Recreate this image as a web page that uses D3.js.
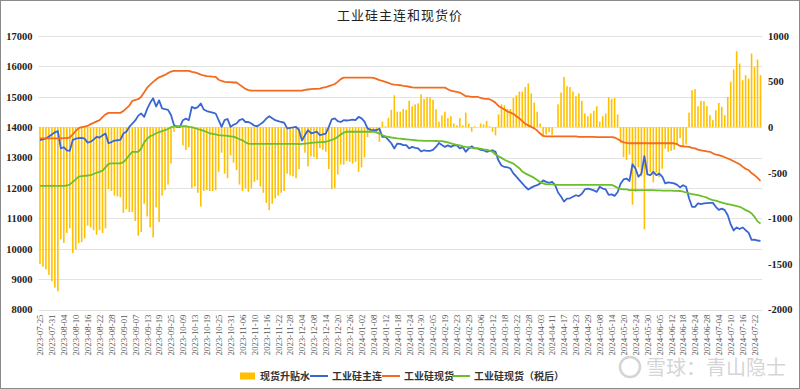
<!DOCTYPE html>
<html><head><meta charset="utf-8">
<script src="https://cdn.jsdelivr.net/npm/d3@7"></script>
<style>body{margin:0;background:#fff}svg{display:block}</style>
</head><body><svg id="c" width="800" height="389"></svg>
<script>
// ---- categories: Chinese trading days ----
const startDate = "2023-07-25", endDate = "2024-07-24";
const holidays = ["2023-09-29","2023-10-02","2023-10-03","2023-10-04","2023-10-05","2023-10-06",
  "2024-01-01","2024-02-09","2024-02-12","2024-02-13","2024-02-14","2024-02-15","2024-02-16",
  "2024-04-04","2024-04-05","2024-05-01","2024-05-02","2024-05-03","2024-06-10"];
const leftTicks = [8000,9000,10000,11000,12000,13000,14000,15000,16000,17000];
const rightTicks = [-2000,-1500,-1000,-500,0,500,1000];
const labelEvery = 4;
const seriesNames = ["现货升贴水","工业硅主连","工业硅现货","工业硅现货（税后）"];

// 工业硅主连
const futures = [13570,13600,13630,13690,13760,13830,13870,13300,13340,13240,
13220,13580,13620,13640,13650,13620,13490,13520,13590,13680,
13660,13730,13790,13470,13510,13560,13570,13580,13790,13850,
14010,14120,14220,14380,14450,14340,14600,14800,14950,14680,
14880,14620,14590,14570,14400,14070,14010,14010,14230,14280,
14230,14670,14620,14660,14780,14580,14530,14500,14480,14450,
14230,14010,14230,14270,14010,14080,14120,14230,14270,14170,
14170,14120,14050,14030,14100,14170,14280,14360,14290,14230,
14200,14170,14150,13960,13980,13990,14010,13900,13560,13740,
13900,13800,13820,13850,13740,13760,13790,14010,14260,14290,
14200,14170,14230,14220,14230,14250,14230,14340,14290,14180,
13960,13910,13900,13900,13950,13680,13690,13580,13470,13300,
13460,13450,13410,13410,13300,13350,13320,13300,13200,13240,
13220,13220,13250,13350,13480,13410,13350,13400,13350,13400,
13400,13300,13350,13190,13300,13370,13300,13300,13250,13240,
13190,13220,13240,13190,12900,12740,12690,12680,12640,12480,
12370,12260,12150,12040,11950,12010,12060,12090,12150,12250,
12200,12170,12200,12100,11850,11720,11550,11650,11660,11710,
11760,11730,11810,11950,11980,11950,11920,11870,12040,11980,
11950,11770,11790,11740,11860,12140,12280,12310,12230,12780,
12640,12370,12470,13050,12450,12420,12530,12420,12470,12370,
12150,12180,12170,12150,12100,12020,12090,12040,11660,11380,
11380,11490,11470,11490,11500,11510,11510,11380,11280,11320,
11270,11100,10800,10600,10700,10650,10700,10610,10530,10290,
10300,10270,10260];

// 工业硅现货
const spot = [13630,13630,13630,13630,13630,13630,13630,13630,13640,13640,
13660,13760,13880,13970,14000,14020,14040,14100,14140,14190,
14230,14330,14420,14470,14470,14470,14470,14470,14530,14620,
14710,14860,14900,14920,15000,15150,15300,15400,15490,15570,
15640,15680,15720,15780,15830,15850,15850,15850,15850,15850,
15850,15820,15800,15770,15730,15700,15680,15670,15660,15655,
15560,15520,15490,15480,15480,15470,15470,15400,15330,15260,
15220,15200,15200,15200,15200,15200,15200,15200,15200,15200,
15200,15200,15200,15200,15200,15200,15200,15200,15200,15230,
15240,15250,15260,15260,15270,15300,15320,15350,15380,15420,
15490,15580,15630,15630,15630,15630,15630,15630,15630,15630,
15630,15630,15620,15590,15550,15520,15490,15460,15420,15400,
15390,15380,15360,15350,15330,15310,15300,15300,15300,15300,
15300,15300,15300,15300,15300,15300,15300,15250,15200,15180,
15160,15140,15080,15020,15010,15000,15000,15000,14960,14940,
14930,14920,14870,14800,14700,14640,14580,14520,14480,14440,
14360,14290,14200,14110,14060,14010,13960,13890,13790,13710,
13700,13700,13700,13700,13700,13700,13700,13700,13700,13700,
13700,13680,13680,13680,13680,13680,13680,13670,13670,13670,
13670,13670,13670,13660,13610,13550,13500,13480,13470,13470,
13470,13470,13470,13470,13470,13470,13470,13470,13470,13470,
13470,13470,13470,13470,13440,13380,13370,13360,13350,13320,
13300,13260,13240,13220,13200,13190,13140,13100,13080,13050,
13010,12970,12930,12880,12830,12780,12700,12630,12590,12490,
12420,12330,12230];

// 工业硅现货（税后）
const spotAfterTax = [12070,12070,12070,12070,12070,12070,12070,12070,12070,12080,
12110,12200,12280,12370,12390,12400,12410,12420,12460,12500,
12530,12570,12680,12790,12810,12810,12810,12810,12850,12950,
13080,13190,13190,13190,13300,13500,13620,13700,13740,13800,
13840,13870,13900,13940,14000,14020,14030,14030,14030,14030,
14010,14000,13970,13940,13910,13880,13840,13800,13780,13760,
13740,13730,13720,13710,13700,13690,13650,13600,13570,13500,
13460,13450,13450,13450,13450,13450,13450,13450,13450,13450,
13450,13450,13450,13450,13450,13450,13450,13440,13450,13460,
13470,13480,13490,13500,13510,13510,13520,13550,13580,13620,
13680,13760,13820,13850,13850,13850,13850,13850,13850,13850,
13850,13850,13850,13830,13790,13740,13700,13680,13660,13650,
13630,13620,13610,13600,13590,13580,13570,13560,13560,13550,
13550,13550,13550,13545,13540,13540,13520,13500,13470,13440,
13420,13400,13370,13350,13340,13320,13310,13300,13290,13270,
13260,13230,13190,13100,13040,12990,12930,12880,12840,12800,
12720,12650,12540,12480,12430,12380,12330,12260,12190,12150,
12120,12115,12115,12100,12100,12100,12100,12100,12100,12100,
12100,12100,12100,12100,12100,12100,12100,12100,12100,12100,
12100,12100,12100,12060,12000,11970,11950,11950,11930,11930,
11930,11930,11930,11930,11930,11925,11925,11920,11920,11915,
11915,11910,11910,11905,11905,11900,11880,11850,11820,11800,
11780,11760,11740,11710,11680,11630,11600,11580,11550,11520,
11490,11470,11450,11430,11400,11380,11330,11270,11230,11160,
11050,10900,10830];

// 现货升贴水 (right axis)
const basis = [-1500,-1530,-1560,-1620,-1690,-1760,-1800,-1230,-1270,-1160,
-1110,-1380,-1340,-1270,-1260,-1220,-1080,-1100,-1130,-1180,
-1130,-1160,-1110,-680,-700,-750,-760,-770,-940,-900,
-930,-930,-1030,-1190,-1150,-840,-980,-1100,-1210,-880,
-1040,-750,-690,-630,-400,-50,20,20,-200,-250,
-220,-670,-650,-720,-870,-700,-690,-700,-700,-690,
-490,-280,-510,-560,-310,-390,-470,-630,-700,-670,
-710,-670,-600,-580,-650,-720,-830,-910,-840,-780,
-750,-720,-700,-510,-530,-540,-560,-460,-110,-280,
-430,-320,-330,-350,-230,-250,-270,-460,-680,-670,
-520,-410,-410,-370,-380,-400,-380,-490,-440,-330,
-110,-60,-50,-70,-160,60,10,100,190,350,
170,170,200,190,290,230,250,260,360,310,
330,330,300,195,60,130,170,100,120,40,
20,100,20,160,40,-50,10,0,40,30,
70,10,-50,-90,140,250,240,200,200,320,
350,390,390,440,480,370,270,170,40,-100,
-80,-55,-85,0,250,380,550,450,440,390,
340,370,290,150,120,150,180,230,60,120,
150,330,310,320,140,-170,-330,-360,-300,-850,
-710,-440,-540,-1120,-520,-495,-605,-500,-550,-455,
-235,-270,-260,-245,-195,-120,-210,-190,160,
406,417,230,288,285,230,132,77,186,266,223,132,332,497,633,833,698,515,570,534,808,661,742,570];

// ---- build trading-day categories ----
const fmt = d3.utcFormat("%Y-%m-%d");
const hol = new Set(holidays);
const dates = d3.utcDays(new Date(startDate+"T00:00:00Z"), d3.utcDay.offset(new Date(endDate+"T00:00:00Z"),1))
  .filter(d => d.getUTCDay()!==0 && d.getUTCDay()!==6 && !hol.has(fmt(d))).map(fmt);

const W = 800, H = 389;
const colors = {bar:"#FFC000", fut:"#3A66D2", spot:"#F26B1F", tax:"#6DBE2D"};
const svg = d3.select("#c");
svg.append("rect").attr("x",0.5).attr("y",0.5).attr("width",W-1).attr("height",H-1)
  .attr("fill","#fff").attr("stroke","#8a8a8a").attr("stroke-width",1);

const plotL = 38.5, plotR = 762, plotT = 36, plotB = 309.5;
const x = d3.scalePoint().domain(dates).range([40, 760.5]);
const yL = d3.scaleLinear().domain([8000,17000]).range([plotB, plotT]);
const yR = d3.scaleLinear().domain([-2000,1000]).range([plotB, plotT]);

// grid
svg.append("g").selectAll("line").data(leftTicks).join("line")
  .attr("x1",plotL).attr("x2",plotR).attr("y1",d=>Math.round(yL(d))+0.5).attr("y2",d=>Math.round(yL(d))+0.5)
  .attr("stroke","#e3e3e3").attr("stroke-width",1);

// left axis
const axL = svg.append("g").attr("transform",`translate(${plotL-6},0)`)
  .call(d3.axisLeft(yL).tickValues(leftTicks).tickSize(0).tickPadding(0).tickFormat(d3.format("d")));
axL.select(".domain").remove();
axL.selectAll("text").attr("font-family","Liberation Serif, serif").attr("font-size",10.5).attr("font-weight","bold").attr("fill","#222");

// right axis
const axR = svg.append("g").attr("transform",`translate(${plotR+6},0)`)
  .call(d3.axisRight(yR).tickValues(rightTicks).tickSize(0).tickPadding(0).tickFormat(d3.format("d")));
axR.select(".domain").remove();
axR.selectAll("text").attr("font-family","Liberation Serif, serif").attr("font-size",10.5).attr("font-weight","bold").attr("fill","#222")
  .text(d=> d<0 ? "-"+Math.abs(d) : d);

// bottom axis labels
const tickDates = dates.filter((d,i)=> i%labelEvery===0);
const axB = svg.append("g").attr("transform",`translate(0,${plotB+5})`)
  .call(d3.axisBottom(x).tickValues(tickDates).tickSize(0).tickPadding(0));
axB.select(".domain").remove();
axB.selectAll("text").attr("font-family","Liberation Serif, serif").attr("font-size",8.8).attr("fill","#555")
  .attr("text-anchor","end").attr("dy","0.32em").attr("transform","rotate(-90)").attr("x",0).attr("y",0);

// bars
svg.append("g").selectAll("rect").data(basis).join("rect")
  .attr("x",(d,i)=> x(dates[i]) - 0.8)
  .attr("width",1.6)
  .attr("y",d=> Math.min(yR(d), yR(0)))
  .attr("height",d=> Math.abs(yR(d)-yR(0)))
  .attr("fill",colors.bar);

const line = arr => d3.line().x((d,i)=>x(dates[i])).y(d=>yL(d))(arr);
svg.append("path").attr("d",line(futures)).attr("fill","none").attr("stroke",colors.fut).attr("stroke-width",1.8).attr("stroke-linejoin","round");
svg.append("path").attr("d",line(spot)).attr("fill","none").attr("stroke",colors.spot).attr("stroke-width",1.8).attr("stroke-linejoin","round");
svg.append("path").attr("d",line(spotAfterTax)).attr("fill","none").attr("stroke",colors.tax).attr("stroke-width",1.8).attr("stroke-linejoin","round");

// title
svg.append("text").attr("x",400).attr("y",20).attr("text-anchor","middle")
  .attr("font-family","Noto Sans CJK SC, sans-serif").attr("font-size",13).attr("fill","#222")
  .attr("letter-spacing",1).text("工业硅主连和现货价");

// legend
const lg = svg.append("g").attr("font-family","Noto Sans CJK SC, sans-serif").attr("font-size",10).attr("font-weight","bold").attr("fill","#333");
const legendItems = [
  {name:seriesNames[0], type:"rect", c:colors.bar, x:240},
  {name:seriesNames[1], type:"line", c:colors.fut, x:310},
  {name:seriesNames[2], type:"line", c:colors.spot, x:382},
  {name:seriesNames[3], type:"line", c:colors.tax, x:452}];
const ly = 376;
legendItems.forEach(it=>{
  if(it.type==="rect") lg.append("rect").attr("x",it.x).attr("y",ly-3.5).attr("width",15).attr("height",7).attr("fill",it.c);
  else lg.append("line").attr("x1",it.x).attr("x2",it.x+18).attr("y1",ly).attr("y2",ly).attr("stroke",it.c).attr("stroke-width",2);
  lg.append("text").attr("x",it.x + (it.type==="rect"?20:22)).attr("y",ly).attr("dy","0.35em").text(it.name);
});

// watermark
const wm = svg.append("g").attr("opacity",0.35);
wm.append("circle").attr("cx",630).attr("cy",367).attr("r",10).attr("fill","none").attr("stroke","#888").attr("stroke-width",2.5);
wm.append("text").attr("x",646).attr("y",375).attr("font-family","Noto Sans CJK SC, sans-serif").attr("font-size",20).attr("fill","#888").text("雪球：青山隐士");
</script></body></html>
